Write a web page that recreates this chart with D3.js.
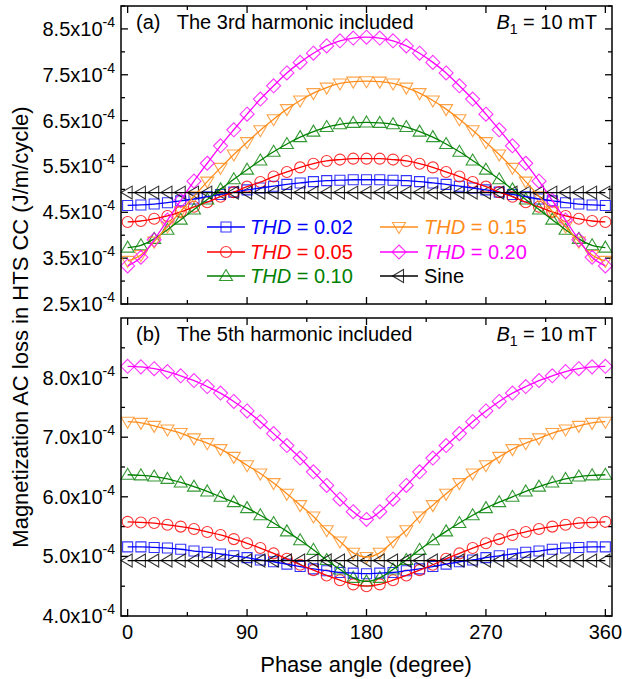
<!DOCTYPE html>
<html>
<head>
<meta charset="utf-8">
<script src="https://cdn.jsdelivr.net/npm/d3@7"></script>
<style>
  body { margin: 0; background: #fff; }
  svg { font-family: "Liberation Sans", Arial, sans-serif; }
</style>
</head>
<body>
<div id="chart"></div>
<script>
// phase angle (degree), values in units of 1e-4 J/m/cycle
var phase = [0,10,20,30,40,50,60,70,80,90,100,110,120,130,140,150,160,170,180,
  190,200,210,220,230,240,250,260,270,280,290,300,310,320,330,340,350,360]

// (a) 3rd harmonic included
var thd02A = [4.65,4.66,4.68,4.71,4.75,4.79,4.84,4.89,4.94,4.99,5.03,5.07,5.11,5.14,5.17,5.19,5.20,5.21,5.21,
  5.21,5.20,5.19,5.17,5.14,5.11,5.07,5.03,4.99,4.94,4.89,4.84,4.79,4.75,4.71,4.68,4.66,4.65]
var thd05A = [4.29,4.31,4.36,4.42,4.51,4.62,4.72,4.84,4.94,5.06,5.16,5.28,5.38,5.48,5.56,5.62,5.65,5.67,5.67,
  5.67,5.65,5.62,5.56,5.48,5.38,5.28,5.16,5.06,4.94,4.84,4.72,4.62,4.51,4.42,4.36,4.31,4.29]
var thd10A = [3.73,3.78,3.92,4.12,4.34,4.56,4.78,5.00,5.22,5.43,5.63,5.82,5.99,6.14,6.26,6.36,6.42,6.45,6.46,
  6.45,6.42,6.36,6.26,6.14,5.99,5.82,5.63,5.43,5.22,5.00,4.78,4.56,4.34,4.12,3.92,3.78,3.73]
var thd15A = [3.44,3.57,3.86,4.19,4.52,4.85,5.17,5.47,5.76,6.03,6.29,6.53,6.75,6.94,7.10,7.22,7.31,7.35,7.36,
  7.35,7.31,7.22,7.10,6.94,6.75,6.53,6.29,6.03,5.76,5.47,5.17,4.85,4.52,4.19,3.86,3.57,3.44]
var thd20A = [3.33,3.52,3.90,4.33,4.76,5.18,5.57,5.95,6.30,6.64,6.97,7.26,7.54,7.77,7.97,8.13,8.24,8.30,8.32,
  8.30,8.24,8.13,7.97,7.77,7.54,7.26,6.97,6.64,6.30,5.95,5.57,5.18,4.76,4.33,3.90,3.52,3.33]
var sineA = [4.93,4.93,4.93,4.93,4.93,4.93,4.93,4.93,4.93,4.93,4.93,4.93,4.93,4.93,4.93,4.93,4.93,4.93,4.93,
  4.93,4.93,4.93,4.93,4.93,4.93,4.93,4.93,4.93,4.93,4.93,4.93,4.93,4.93,4.93,4.93,4.93,4.93]

// (b) 5th harmonic included
var thd02B = [5.16,5.16,5.15,5.14,5.12,5.09,5.07,5.04,5.01,4.98,4.94,4.91,4.87,4.83,4.79,4.76,4.73,4.72,4.71,
  4.72,4.73,4.76,4.79,4.83,4.87,4.91,4.94,4.98,5.01,5.04,5.07,5.09,5.12,5.14,5.15,5.16,5.16]
var thd05B = [5.58,5.57,5.56,5.53,5.50,5.46,5.41,5.36,5.29,5.22,5.14,5.05,4.96,4.86,4.77,4.68,4.60,4.53,4.50,
  4.53,4.60,4.68,4.77,4.86,4.96,5.05,5.14,5.22,5.29,5.36,5.41,5.46,5.50,5.53,5.56,5.57,5.58]
var thd10B = [6.37,6.36,6.34,6.30,6.24,6.17,6.09,6.00,5.91,5.81,5.69,5.56,5.42,5.27,5.11,4.94,4.78,4.64,4.58,
  4.64,4.78,4.94,5.11,5.27,5.42,5.56,5.69,5.81,5.91,6.00,6.09,6.17,6.24,6.30,6.34,6.36,6.37]
var thd15B = [7.26,7.24,7.19,7.13,7.07,6.98,6.90,6.80,6.67,6.53,6.39,6.23,6.05,5.86,5.67,5.44,5.25,5.06,4.99,
  5.06,5.25,5.44,5.67,5.86,6.05,6.23,6.39,6.53,6.67,6.80,6.90,6.98,7.07,7.13,7.19,7.24,7.26]
var thd20B = [8.19,8.18,8.15,8.10,8.03,7.95,7.85,7.74,7.60,7.44,7.26,7.06,6.86,6.65,6.42,6.19,5.96,5.75,5.62,
  5.75,5.96,6.19,6.42,6.65,6.86,7.06,7.26,7.44,7.60,7.74,7.85,7.95,8.03,8.10,8.15,8.18,8.19]
var sineB = sineA

var seriesNames = ["0.02", "0.05", "0.10", "0.15", "0.20", "Sine"]
var colors = ["#0000ff", "#ff0000", "#008000", "#ff8c1a", "#ff00ff", "#000000"]
var shapes = ["square", "circle", "triUp", "triDown", "diamond", "triLeft"]

var xTicks = [0, 90, 180, 270, 360]
var yTicksA = [2.5, 3.5, 4.5, 5.5, 6.5, 7.5, 8.5]
var yTicksB = [4.0, 5.0, 6.0, 7.0, 8.0]

var width = 622, height = 679

var svg = d3.select("#chart")
  .append("svg")
    .attr("width", width)
    .attr("height", height)

function markerPath(shape) {
  if (shape == "square") return "M-5,-5h10v10h-10z"
  if (shape == "circle") return "M5.5,0A5.5,5.5 0 1,1 -5.5,0A5.5,5.5 0 1,1 5.5,0z"
  if (shape == "triUp") return "M0,-6.5L6.5,4.5L-6.5,4.5z"
  if (shape == "triDown") return "M0,6.5L6.5,-4.5L-6.5,-4.5z"
  if (shape == "triLeft") return "M-6.5,0L4.5,-6.5L4.5,6.5z"
  return "M0,-7L7,0L0,7L-7,0z"
}

var xScale = d3.scaleLinear().domain([-5, 365]).range([121, 612])

function panel(opts) {
  var y = d3.scaleLinear().domain(opts.yDomain).range([opts.bottom, opts.top])
  var g = svg.append("g")

  // minor + major ticks, all four sides, pointing inward
  var xMinor = [45, 135, 225, 315]
  var yMinor = opts.yTicks.map(function(d) { return d + 0.5 }).filter(function(d) { return d <= opts.yDomain[1] })

  function xt(v, len) {
    g.append("line").attr("x1", xScale(v)).attr("x2", xScale(v))
      .attr("y1", opts.bottom).attr("y2", opts.bottom - len).attr("stroke", "#000").attr("stroke-width", 1.3)
    g.append("line").attr("x1", xScale(v)).attr("x2", xScale(v))
      .attr("y1", opts.top).attr("y2", opts.top + len).attr("stroke", "#000").attr("stroke-width", 1.3)
  }
  function yt(v, len) {
    g.append("line").attr("x1", 121).attr("x2", 121 + len)
      .attr("y1", y(v)).attr("y2", y(v)).attr("stroke", "#000").attr("stroke-width", 1.3)
    g.append("line").attr("x1", 612).attr("x2", 612 - len)
      .attr("y1", y(v)).attr("y2", y(v)).attr("stroke", "#000").attr("stroke-width", 1.3)
  }
  xTicks.forEach(function(v) { xt(v, 7) })
  xMinor.forEach(function(v) { xt(v, 4) })
  opts.yTicks.forEach(function(v) { yt(v, 7) })
  yMinor.forEach(function(v) { yt(v, 4) })

  // y tick labels like 8.5x10^-4
  opts.yTicks.forEach(function(v) {
    var t = g.append("text")
      .attr("x", 115)
      .attr("y", y(v) + 7)
      .attr("text-anchor", "end")
      .style("font-size", "20px")
    t.append("tspan").text(v.toFixed(1) + "x10")
    t.append("tspan").attr("dy", -9).style("font-size", "14px").text("-4")
  })

  if (opts.xLabels) {
    xTicks.forEach(function(v) {
      g.append("text")
        .attr("x", xScale(v))
        .attr("y", 639)
        .attr("text-anchor", "middle")
        .style("font-size", "20px")
        .text(v)
    })
  }

  var line = d3.line()
    .x(function(d) { return xScale(d[0]) })
    .y(function(d) { return y(d[1]) })
    .curve(d3.curveMonotoneX)

  var marks = g.append("g")

  opts.data.forEach(function(vals, i) {
    marks.selectAll(null)
      .data(vals)
      .enter()
      .append("path")
        .attr("d", markerPath(shapes[i]))
        .attr("transform", function(d, j) { return "translate(" + xScale(phase[j]) + "," + y(d) + ")" })
        .attr("fill", "none")
        .attr("stroke", colors[i])
        .attr("stroke-opacity", 0.8)
        .attr("stroke-width", 1.1)
  })

  opts.data.forEach(function(vals, i) {
    marks.append("path")
      .datum(vals.map(function(d, j) { return [phase[j], d] }))
      .attr("d", line)
      .attr("fill", "none")
      .attr("stroke", colors[i])
      .attr("stroke-width", 1.3)
  })

  // frame
  g.append("rect")
    .attr("x", 121).attr("y", opts.top)
    .attr("width", 612 - 121).attr("height", opts.bottom - opts.top)
    .attr("fill", "none").attr("stroke", "#000").attr("stroke-width", 1.5)

  g.append("text")
    .attr("x", 136)
    .attr("y", opts.top + 23)
    .style("font-size", "20px")
    .style("white-space", "pre")
    .attr("xml:space", "preserve")
    .text(opts.label)

  var b = g.append("text")
    .attr("x", 597)
    .attr("y", opts.top + 23)
    .attr("text-anchor", "end")
    .style("font-size", "20px")
  b.append("tspan").style("font-style", "italic").text("B")
  b.append("tspan").attr("dy", 5).style("font-size", "14px").text("1")
  b.append("tspan").attr("dy", -5).text(" = 10 mT")
}

panel({
  top: 6, bottom: 304, yDomain: [2.5, 9.0], yTicks: yTicksA, xLabels: false,
  data: [thd02A, thd05A, thd10A, thd15A, thd20A, sineA],
  label: "(a)   The 3rd harmonic included"
})

panel({
  top: 318, bottom: 616, yDomain: [4.0, 9.0], yTicks: yTicksB, xLabels: true,
  data: [thd02B, thd05B, thd10B, thd15B, thd20B, sineB],
  label: "(b)   The 5th harmonic included"
})

// legend (panel a)
var legendPos = [[207, 227], [207, 252], [207, 276], [380, 227], [380, 252], [380, 276]]
legendPos.forEach(function(p, i) {
  var lg = svg.append("g").attr("transform", "translate(" + p[0] + "," + p[1] + ")")
  lg.append("line").attr("x1", 0).attr("x2", 38).attr("y1", 0).attr("y2", 0)
    .attr("stroke", colors[i]).attr("stroke-width", 1.3)
  lg.append("path").attr("d", markerPath(shapes[i]))
    .attr("transform", "translate(19,0)")
    .attr("fill", "none").attr("stroke", colors[i]).attr("stroke-opacity", 0.8).attr("stroke-width", 1.1)
  var t = lg.append("text").attr("x", i < 3 ? 43 : 44).attr("y", 7)
    .style("font-size", "20px").attr("fill", colors[i])
  if (seriesNames[i] == "Sine") {
    t.text("Sine")
  } else {
    t.append("tspan").style("font-style", "italic").text("THD")
    t.append("tspan").text(" = " + seriesNames[i])
  }
})

// axis titles
svg.append("text")
  .attr("text-anchor", "middle")
  .attr("x", 366)
  .attr("y", 672)
  .style("font-size", "22px")
  .text("Phase angle (degree)")

svg.append("text")
  .attr("text-anchor", "middle")
  .attr("transform", "translate(28,327) rotate(-90)")
  .style("font-size", "22px")
  .text("Magnetization AC loss in HTS CC (J/m/cycle)")
</script>
</body>
</html>
